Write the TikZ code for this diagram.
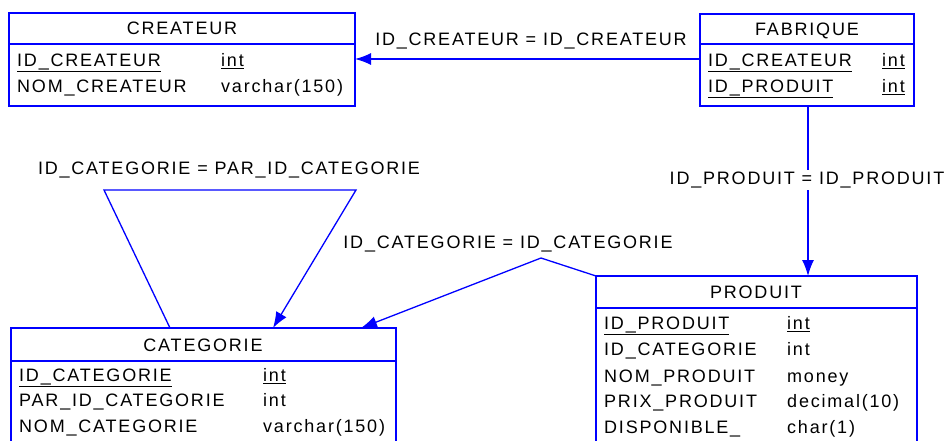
\documentclass[tikz,border=0pt]{standalone}
\usepackage{fontspec}
\setmainfont{Liberation Sans}[LetterSpace=10]
\usetikzlibrary{arrows.meta,calc}
\definecolor{pdblue}{RGB}{0,0,255}
\newcommand\ulfld[1]{\leavevmode\vtop{\hbox{#1}\kern1.2pt\hrule height 1.1pt}}
\begin{document}
\begin{tikzpicture}[x=1pt,y=-1pt,
  tbl/.style={draw=pdblue, line width=1.5pt, inner sep=0pt, outer sep=0pt, fill=white},
  sep/.style={draw=pdblue, line width=1.5pt},
  rel/.style={draw=pdblue, line width=1.3pt},
  tip/.style={-{Latex[length=16pt,width=12pt]}},
  txt/.style={font=\fontsize{18}{20}\selectfont, inner sep=0pt, text=black},
  fld/.style={txt, anchor=base west},
  ttl/.style={txt, anchor=base},
  lbl/.style={txt, anchor=base, fill=white, inner sep=2pt}]
\useasboundingbox (0,0) rectangle (944,441);
\clip (0,0) rectangle (944,441);
\fill[white] (0,0) rectangle (944,441);

% ---- tables
\node[tbl, minimum width=346pt, minimum height=93pt, anchor=north west] (cre) at (9,13) {};
\node[tbl, minimum width=214pt, minimum height=92pt, anchor=north west] (fab) at (700,14) {};
\node[tbl, minimum width=385pt, minimum height=125pt, anchor=north west] (cat) at (11,328) {};
\node[tbl, minimum width=321pt, minimum height=175pt, anchor=north west] (pro) at (596,276) {};

\draw[sep] (9,44) -- (355,44);
\draw[sep] (700,44) -- (914,44);
\draw[sep] (11,361) -- (396,361);
\draw[sep] (596,308) -- (917,308);

% CREATEUR
\node[ttl] (creT) at (182,35) {CREATEUR};
\node[fld] (cre1) at (17,66.5) {\ulfld{ID\_CREATEUR}};
\node[fld] (cre1t) at (221,66.5) {\ulfld{int}};
\node[fld] (cre2) at (17,92.5) {NOM\_CREATEUR};
\node[fld] (cre2t) at (221,92.5) {varchar(150)};

% FABRIQUE
\node[ttl] (fabT) at (807,35.5) {FABRIQUE};
\node[fld] (fab1) at (708,66.5) {\ulfld{ID\_CREATEUR}};
\node[fld] (fab1t) at (882,66.5) {\ulfld{int}};
\node[fld] (fab2) at (708,92.5) {\ulfld{ID\_PRODUIT}};
\node[fld] (fab2t) at (882,92.5) {\ulfld{int}};

% CATEGORIE
\node[ttl] (catT) at (203,351.5) {CATEGORIE};
\node[fld] (cat1) at (19,381.5) {\ulfld{ID\_CATEGORIE}};
\node[fld] (cat1t) at (263,381.5) {\ulfld{int}};
\node[fld] (cat2) at (19,406.5) {PAR\_ID\_CATEGORIE};
\node[fld] (cat2t) at (263,406.5) {int};
\node[fld] (cat3) at (19,432.5) {NOM\_CATEGORIE};
\node[fld] (cat3t) at (263,432.5) {varchar(150)};

% PRODUIT
\node[ttl] (proT) at (756,298.5) {PRODUIT};
\node[fld] (pro1) at (604,329.5) {\ulfld{ID\_PRODUIT}};
\node[fld] (pro1t) at (787,329.5) {\ulfld{int}};
\node[fld] (pro2) at (604,355.5) {ID\_CATEGORIE};
\node[fld] (pro2t) at (787,355.5) {int};
\node[fld] (pro3) at (604,382.5) {NOM\_PRODUIT};
\node[fld] (pro3t) at (787,382.5) {money};
\node[fld] (pro4) at (604,407.5) {PRIX\_PRODUIT};
\node[fld] (pro4t) at (787,407.5) {decimal(10)};
\node[fld] (pro5) at (604,433.5) {DISPONIBLE\_};
\node[fld] (pro5t) at (787,433.5) {char(1)};

% ---- connection points
\coordinate (fabW) at (fab.west |- 0,59);
\coordinate (creE) at (cre.east |- 0,59);
\coordinate (fabS) at (fab.south -| 808,0);
\coordinate (proN) at (pro.north -| 808,0);
\coordinate (catA) at (cat.north -| 170,0);
\coordinate (catB) at (cat.north -| 273,0);
\coordinate (catC) at (cat.north -| 361,0);
\coordinate (sL) at (104,190);
\coordinate (sR) at (356,190);
\coordinate (bend) at (541,258);

% ---- connectors
\draw[rel, tip] (fabW) -- (creE);
\node[ttl] (l1) at (531,46) {ID\_CREATEUR = ID\_CREATEUR};

\draw[rel, tip] (fabS) -- (proN);
\node[lbl] (l2) at (807,184.5) {ID\_PRODUIT = ID\_PRODUIT};

\draw[rel, tip] (catA) -- (sL) -- (sR) -- (catB);
\node[ttl] (l3) at (229,174) {ID\_CATEGORIE = PAR\_ID\_CATEGORIE};

\draw[rel, tip] (pro.north west) -- (bend) -- (catC);
\node[ttl] (l4) at (508,248.5) {ID\_CATEGORIE = ID\_CATEGORIE};
\end{tikzpicture}
\end{document}
